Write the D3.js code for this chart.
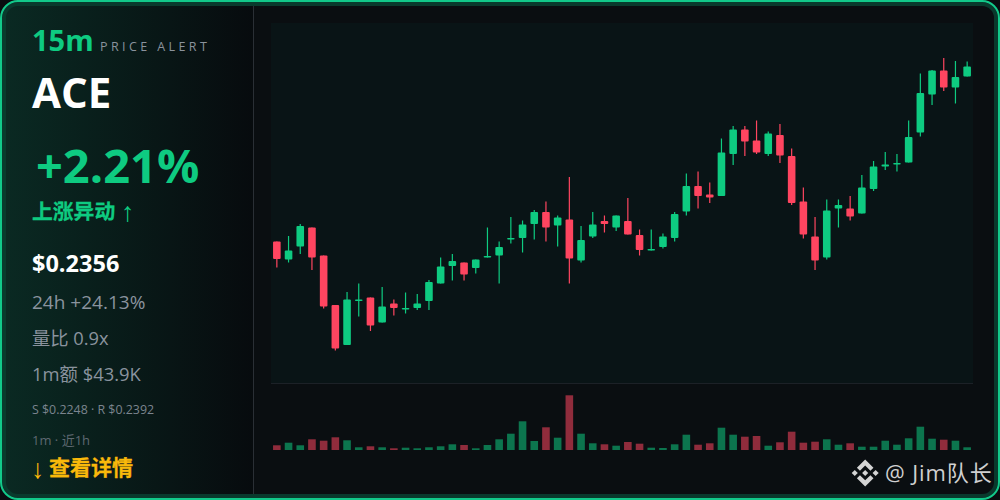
<!DOCTYPE html>
<html>
<head>
<meta charset="utf-8">
<script src="https://cdnjs.cloudflare.com/ajax/libs/d3/7.8.5/d3.min.js"></script>
<style>
  html, body { margin: 0; padding: 0; background: #0a0d10; }
  svg { display: block; }
  text { font-family: "Open Sans", "Noto Sans CJK SC", sans-serif; }
</style>
</head>
<body>
<div id="chart"></div>
<script>
var highs = [23207,23218,23242,23235,23179,23080,23106,23123,23095,23116,23091,23105,23102,23130,23175,23182,23165,23171,23235,23207,
             23256,23249,23270,23287,23259,23336,23238,23266,23259,23259,23294,23231,23231,23223,23266,23343,23347,23325,23413,23438,
             23438,23449,23427,23442,23393,23315,23256,23291,23291,23298,23340,23368,23386,23382,23449,23543,23550,23574,23568,23567];
var opens = [23207,23171,23197,23235,23179,23080,23000,23088,23095,23045,23083,23071,23074,23088,23123,23158,23165,23154,23175,23179,
             23211,23214,23242,23266,23239,23251,23169,23217,23248,23235,23248,23220,23189,23196,23214,23267,23318,23301,23298,23382,
             23431,23409,23382,23420,23378,23287,23217,23175,23273,23273,23263,23312,23357,23361,23365,23425,23501,23549,23515,23537];
var closes = [23172,23189,23238,23175,23077,22993,23091,23091,23039,23077,23074,23074,23083,23126,23157,23168,23141,23171,23178,23196,
              23214,23241,23266,23235,23255,23173,23210,23241,23242,23259,23221,23190,23192,23217,23262,23318,23298,23295,23385,23431,
              23407,23385,23423,23379,23284,23221,23169,23269,23280,23257,23315,23357,23361,23364,23416,23504,23549,23515,23536,23557];
var lows = [23155,23165,23182,23150,23073,22989,23000,23057,23028,23045,23059,23063,23070,23070,23123,23129,23129,23143,23175,23123,
            23203,23185,23211,23207,23197,23123,23165,23214,23225,23228,23221,23179,23189,23193,23207,23259,23273,23284,23298,23360,
            23378,23382,23378,23364,23280,23213,23150,23171,23235,23249,23263,23308,23350,23347,23365,23417,23480,23508,23483,23537];
var volumes = [4.7,7.3,4.7,10.7,9.3,12.7,9.7,2.7,3.7,2.7,1.7,2.3,1.7,2.7,3.7,5.7,5,1.7,5,10.7,
               16.3,28.7,9,22.7,12.3,54.7,16.3,6.7,5.7,4.3,8,6.3,2.3,2,5.7,15.3,5.3,6.7,22.3,15.3,
               13.3,14,4.3,7.7,18.3,7.3,8.3,10.7,5.3,6.7,3.3,3.3,9.3,5.3,11.7,23.3,11.3,10.3,9.3,2.7];

var GREEN = "#0ecb81", RED = "#ff4560", AMBER = "#f9b90b";
var W = 1000, H = 500;

var svg = d3.select("#chart").append("svg").attr("width", W).attr("height", H);
var defs = svg.append("defs");

var grad = defs.append("linearGradient").attr("id", "panelGrad");
grad.append("stop").attr("offset", "0%").attr("stop-color", "#0a2a23");
grad.append("stop").attr("offset", "100%").attr("stop-color", "#070b0e");

defs.append("clipPath").attr("id", "cardClip")
  .append("rect").attr("x", 1).attr("y", 1).attr("width", W - 2).attr("height", H - 2).attr("rx", 17);

// card
svg.append("rect").attr("width", W).attr("height", H).attr("fill", "#0a0d10");
var card = svg.append("g").attr("clip-path", "url(#cardClip)");
card.append("rect").attr("width", W).attr("height", H).attr("fill", "#0a0e11");
card.append("rect").attr("width", 253).attr("height", H).attr("fill", "url(#panelGrad)");
card.append("rect").attr("x", 253).attr("width", 1).attr("height", H).attr("fill", "#2a2f35");
// plot area
card.append("rect").attr("x", 271).attr("y", 23).attr("width", 702).attr("height", 360).attr("fill", "#091416");

// borders
svg.append("rect").attr("x", 4).attr("y", 4).attr("width", W - 8).attr("height", H - 8).attr("rx", 14)
  .attr("fill", "none").attr("stroke", "#093a2d").attr("stroke-width", 4);
svg.append("rect").attr("x", 1).attr("y", 1).attr("width", W - 2).attr("height", H - 2).attr("rx", 17)
  .attr("fill", "none").attr("stroke", "#12c98a").attr("stroke-width", 2);

// candles
var x = d3.scaleBand().domain(d3.range(closes.length)).range([271, 973]);
var y = d3.scaleLinear().domain([22924, 23644]).range([383, 23]);
var yVol = d3.scaleLinear().domain([0, 66]).range([450, 384]);
var bodyW = 7.6;
function cx(i) { return x(i) + x.bandwidth() / 2; }
function color(i) { return closes[i] >= opens[i] ? GREEN : RED; }

var candles = svg.append("g").selectAll("g").data(d3.range(closes.length)).enter().append("g");
candles.append("line")
  .attr("x1", cx).attr("x2", cx)
  .attr("y1", function(i) { return y(highs[i]); })
  .attr("y2", function(i) { return y(lows[i]); })
  .attr("stroke", color).attr("stroke-width", 1.2);
candles.append("rect")
  .attr("x", function(i) { return cx(i) - bodyW / 2; })
  .attr("width", bodyW).attr("rx", 1)
  .attr("y", function(i) { return y(Math.max(opens[i], closes[i])); })
  .attr("height", function(i) { return Math.max(1.2, Math.abs(y(opens[i]) - y(closes[i]))); })
  .attr("fill", color);

// divider between price and volume
svg.append("line").attr("x1", 271).attr("x2", 973).attr("y1", 383.5).attr("y2", 383.5)
  .attr("stroke", "#1c2127");

// volume
svg.append("g").selectAll("rect").data(d3.range(volumes.length)).enter().append("rect")
  .attr("x", function(i) { return cx(i) - bodyW / 2; })
  .attr("width", bodyW)
  .attr("y", function(i) { return yVol(volumes[i]); })
  .attr("height", function(i) { return yVol(0) - yVol(volumes[i]); })
  .attr("fill", color).attr("fill-opacity", 0.55);

// left panel text
function label(str, px, py, size, weight, fill, spacing) {
  return svg.append("text").attr("x", px).attr("y", py).attr("font-size", size)
    .attr("font-weight", weight).attr("fill", fill)
    .attr("letter-spacing", spacing || 0).text(str);
}
label("15m", 32, 51, 29, 700, GREEN);
label("PRICE ALERT", 100, 51, 12.5, 400, "#8a929c", 3.4);
label("ACE", 32, 108, 42, 700, "#ffffff");
label("+2.21%", 36, 183, 47, 700, GREEN);
label("上涨异动", 32, 219, 20.8, 700, GREEN).attr("stroke", GREEN).attr("stroke-width", 0.3);
label("↑", 121, 221, 27, 400, GREEN).style("font-family", "Liberation Sans");
label("$0.2356", 32, 272, 23.5, 700, "#ffffff");
label("24h +24.13%", 32, 309, 19, 400, "#8a939e");
label("量比 0.9x", 32, 345, 18.3, 400, "#8a939e");
label("1m额 $43.9K", 32, 381, 18.4, 400, "#8a939e");
label("S $0.2248 · R $0.2392", 32, 414, 12.4, 400, "#7b848e");
label("1m · 近1h", 32, 445, 13, 400, "#5e6871");
label("↓", 31, 478, 27, 400, AMBER).style("font-family", "Liberation Sans");
label("查看详情", 49, 475, 21, 700, AMBER).attr("stroke", AMBER).attr("stroke-width", 0.3);

// watermark: binance mark + handle
var logoPaths = [
  "M38.73 53.2L63.3 28.63L87.89 53.22L102.19 38.92L63.3 0L24.43 38.9Z",
  "M0 63.31L14.3 49.01L28.6 63.31L14.3 77.61Z",
  "M63.3 48.97L77.63 63.3L63.3 77.63L48.97 63.3Z",
  "M38.73 73.41L24.41 87.71L63.3 126.61L102.19 87.7L87.89 73.41L63.3 98Z",
  "M98 63.31L112.3 49.01L126.6 63.31L112.3 77.61Z"
];
svg.append("g").attr("transform", "translate(851.7,459.5) scale(0.213)").attr("fill", "#d4d4d4")
  .selectAll("path").data(logoPaths).enter().append("path").attr("d", function(d) { return d; });
label("@ Jim队长", 885, 481, 22, 400, "#d0d0d0", 0.9);
</script>
</body>
</html>
